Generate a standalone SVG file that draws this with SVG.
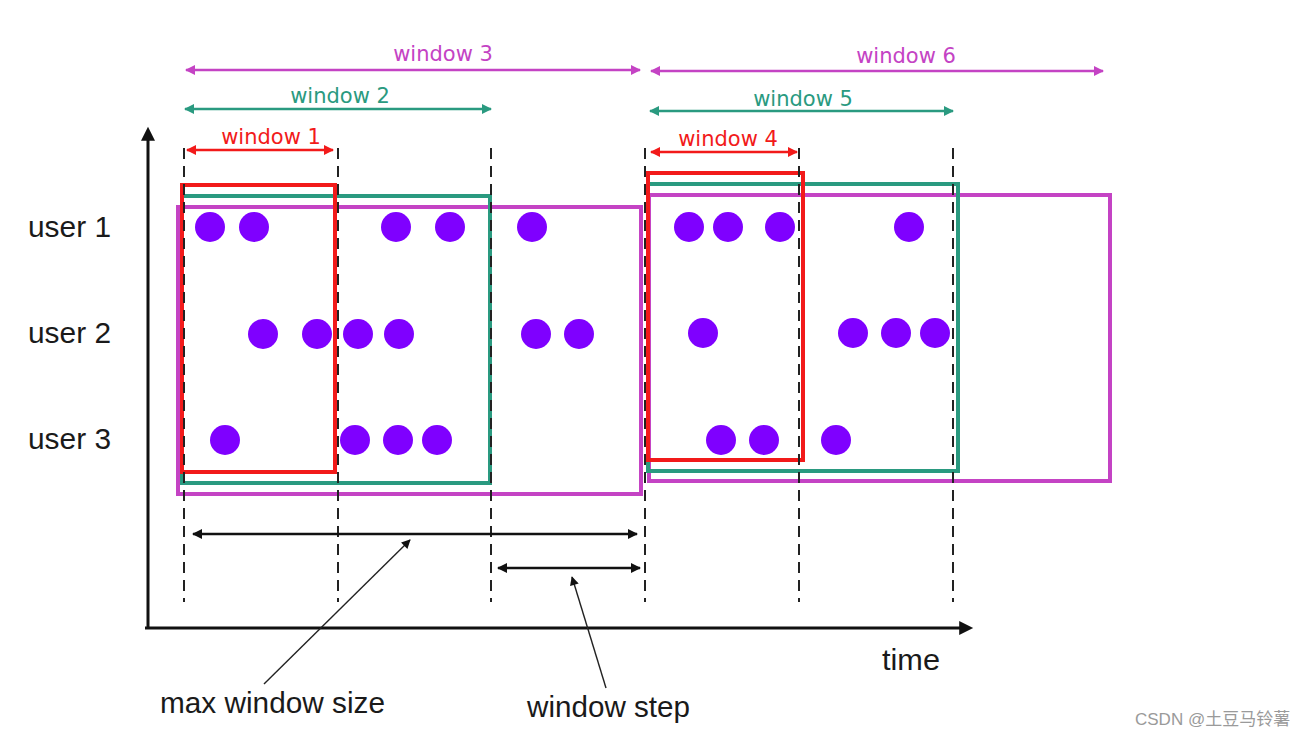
<svg xmlns="http://www.w3.org/2000/svg" width="1296" height="738" viewBox="0 0 1296 738">
<defs>
<style>
.lbl{font-family:"DejaVu Sans",sans-serif;font-size:21px;text-anchor:middle}
.txt{font-family:"Liberation Sans",Arial,sans-serif;fill:#1a1a1a}
.red{stroke:#f21a1a;fill:none}
.grn{stroke:#2a9a80;fill:none}
.mag{stroke:#c443c4;fill:none}
.box{stroke-width:4}
.dash{stroke:#222;stroke-width:2;stroke-dasharray:11 7}
.dot{fill:#7f00ff}
</style>
<marker id="mr" viewBox="0 0 10 10" refX="9" refY="5" markerWidth="10" markerHeight="10" markerUnits="userSpaceOnUse" orient="auto-start-reverse"><path d="M0,0L10,5L0,10z" fill="#f21a1a"/></marker>
<marker id="mg" viewBox="0 0 10 10" refX="9" refY="5" markerWidth="10" markerHeight="10" markerUnits="userSpaceOnUse" orient="auto-start-reverse"><path d="M0,0L10,5L0,10z" fill="#2a9a80"/></marker>
<marker id="mm" viewBox="0 0 10 10" refX="9" refY="5" markerWidth="10" markerHeight="10" markerUnits="userSpaceOnUse" orient="auto-start-reverse"><path d="M0,0L10,5L0,10z" fill="#c443c4"/></marker>
<marker id="mk" viewBox="0 0 10 10" refX="9" refY="5" markerWidth="10" markerHeight="10" markerUnits="userSpaceOnUse" orient="auto-start-reverse"><path d="M0,0L10,5L0,10z" fill="#111"/></marker>
<marker id="ma" viewBox="0 0 10 10" refX="2" refY="5" markerWidth="18" markerHeight="14" markerUnits="userSpaceOnUse" orient="auto"><path d="M0,0L10,5L0,10z" fill="#111"/></marker>
<marker id="mp" viewBox="0 0 10 10" refX="9" refY="5" markerWidth="10" markerHeight="9" markerUnits="userSpaceOnUse" orient="auto"><path d="M0,0L10,5L0,10z" fill="#111"/></marker>
</defs>
<rect width="1296" height="738" fill="#fff"/>

<g id="axes">
<line x1="148" y1="628" x2="148" y2="138" stroke="#111" stroke-width="3" marker-end="url(#ma)"/>
<line x1="145" y1="628" x2="962" y2="628" stroke="#111" stroke-width="3" marker-end="url(#ma)"/>
<text class="txt" x="882" y="670" font-size="29" textLength="58" lengthAdjust="spacingAndGlyphs">time</text>
</g>

<g id="windows">
<g id="window3-box"><rect class="mag box" x="178" y="207" width="463" height="287"/></g>
<g id="window2-box"><rect class="grn box" x="182" y="196" width="308" height="287"/></g>
<g id="window1-box"><rect class="red box" x="182" y="185" width="153" height="287"/></g>
<g id="window6-box"><rect class="mag box" x="649" y="195" width="461" height="286"/></g>
<g id="window5-box"><rect class="grn box" x="648" y="184" width="310" height="287"/></g>
<g id="window4-box"><rect class="red box" x="648" y="173" width="155" height="287"/></g>
</g>

<g id="dashes">
<line class="dash" x1="184" y1="148" x2="184" y2="602"/>
<line class="dash" x1="338" y1="148" x2="338" y2="602"/>
<line class="dash" x1="491" y1="148" x2="491" y2="602"/>
<line class="dash" x1="645" y1="148" x2="645" y2="602"/>
<line class="dash" x1="799" y1="148" x2="799" y2="602"/>
<line class="dash" x1="953" y1="148" x2="953" y2="602"/>
</g>

<g id="users">
<text class="txt" x="28" y="237" font-size="29" textLength="83" lengthAdjust="spacingAndGlyphs">user 1</text>
<text class="txt" x="28" y="343" font-size="29" textLength="83" lengthAdjust="spacingAndGlyphs">user 2</text>
<text class="txt" x="28" y="449" font-size="29" textLength="83" lengthAdjust="spacingAndGlyphs">user 3</text>
</g>

<g id="dots">
<circle class="dot" cx="210" cy="227" r="15"/>
<circle class="dot" cx="254" cy="227" r="15"/>
<circle class="dot" cx="396" cy="227" r="15"/>
<circle class="dot" cx="450" cy="227" r="15"/>
<circle class="dot" cx="532" cy="227" r="15"/>
<circle class="dot" cx="689" cy="227" r="15"/>
<circle class="dot" cx="728" cy="227" r="15"/>
<circle class="dot" cx="780" cy="227" r="15"/>
<circle class="dot" cx="909" cy="227" r="15"/>
<circle class="dot" cx="263" cy="334" r="15"/>
<circle class="dot" cx="317" cy="334" r="15"/>
<circle class="dot" cx="358" cy="334" r="15"/>
<circle class="dot" cx="399" cy="334" r="15"/>
<circle class="dot" cx="536" cy="334" r="15"/>
<circle class="dot" cx="579" cy="334" r="15"/>
<circle class="dot" cx="703" cy="333" r="15"/>
<circle class="dot" cx="853" cy="333" r="15"/>
<circle class="dot" cx="896" cy="333" r="15"/>
<circle class="dot" cx="935" cy="333" r="15"/>
<circle class="dot" cx="225" cy="440" r="15"/>
<circle class="dot" cx="355" cy="440" r="15"/>
<circle class="dot" cx="398" cy="440" r="15"/>
<circle class="dot" cx="437" cy="440" r="15"/>
<circle class="dot" cx="721" cy="440" r="15"/>
<circle class="dot" cx="764" cy="440" r="15"/>
<circle class="dot" cx="836" cy="440" r="15"/>
</g>

<g id="connectors">
<line class="mag" stroke-width="2.5" x1="186" y1="70" x2="640" y2="70" marker-start="url(#mm)" marker-end="url(#mm)"/>
<line class="grn" stroke-width="2.5" x1="185" y1="109" x2="491" y2="109" marker-start="url(#mg)" marker-end="url(#mg)"/>
<line class="red" stroke-width="2.5" x1="187" y1="150" x2="333" y2="150" marker-start="url(#mr)" marker-end="url(#mr)"/>
<line class="mag" stroke-width="2.5" x1="651" y1="71" x2="1103" y2="71" marker-start="url(#mm)" marker-end="url(#mm)"/>
<line class="grn" stroke-width="2.5" x1="650" y1="111" x2="953" y2="111" marker-start="url(#mg)" marker-end="url(#mg)"/>
<line class="red" stroke-width="2.5" x1="651" y1="152" x2="797" y2="152" marker-start="url(#mr)" marker-end="url(#mr)"/>
<line stroke="#111" stroke-width="2.5" x1="193" y1="534" x2="637" y2="534" marker-start="url(#mk)" marker-end="url(#mk)"/>
<line stroke="#111" stroke-width="2.5" x1="498" y1="568" x2="640" y2="568" marker-start="url(#mk)" marker-end="url(#mk)"/>
<line stroke="#222" stroke-width="1.4" x1="264" y1="684" x2="410" y2="540" marker-end="url(#mp)"/>
<line stroke="#222" stroke-width="1.4" x1="606" y1="688" x2="572" y2="577" marker-end="url(#mp)"/>
</g>

<g id="labels">
<text class="lbl" x="443" y="61" fill="#c443c4">window 3</text>
<text class="lbl" x="340" y="103" fill="#2a9a80">window 2</text>
<text class="lbl" x="271" y="144" fill="#f21a1a">window 1</text>
<text class="lbl" x="906" y="63" fill="#c443c4">window 6</text>
<text class="lbl" x="803" y="106" fill="#2a9a80">window 5</text>
<text class="lbl" x="728" y="146" fill="#f21a1a">window 4</text>
<text class="txt" x="160" y="713" font-size="30" textLength="225" lengthAdjust="spacingAndGlyphs">max window size</text>
<text class="txt" x="527" y="717" font-size="30" textLength="163" lengthAdjust="spacingAndGlyphs">window step</text>
</g>

<text x="1135" y="725" font-family="Liberation Sans,'Noto Sans CJK SC',sans-serif" font-size="17" fill="#9a9a9a">CSDN @土豆马铃薯</text>
</svg>
